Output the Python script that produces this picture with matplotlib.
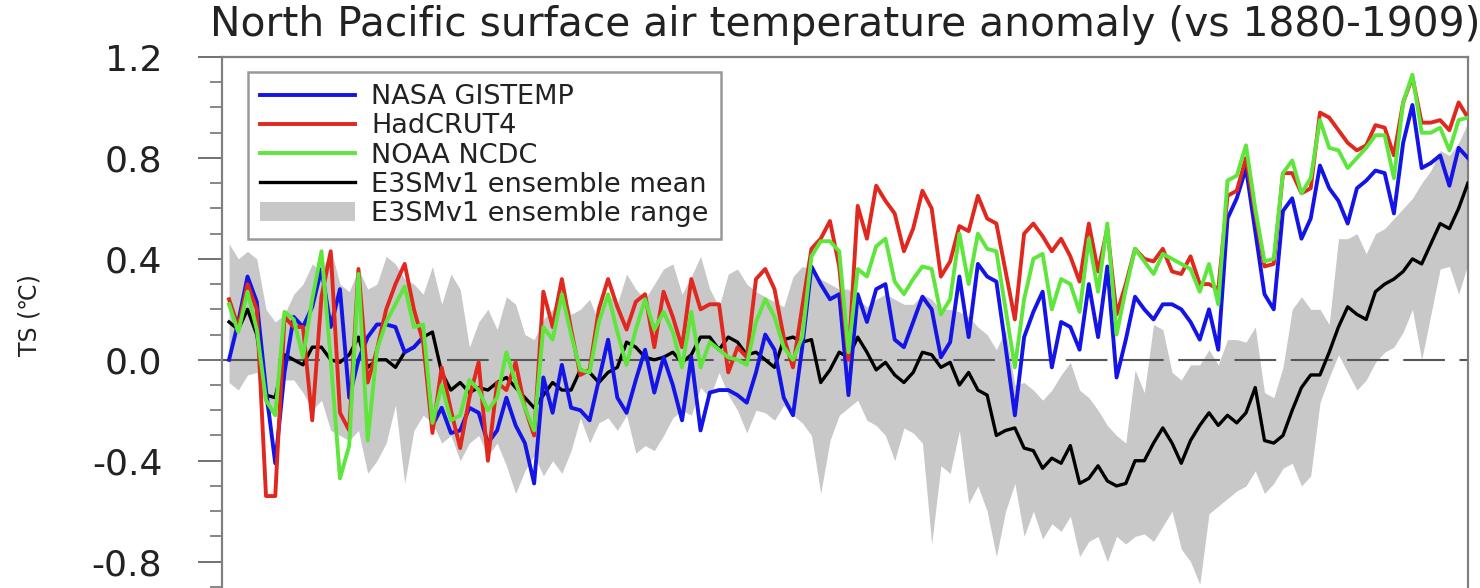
import numpy as np
import matplotlib
matplotlib.use("Agg")
import matplotlib.pyplot as plt
from matplotlib.ticker import MultipleLocator

years = np.arange(1880, 2015)

gistemp = [0.00, 0.15, 0.33, 0.23, -0.12, -0.41, -0.05, 0.17, 0.13, 0.21,
           0.36, 0.13, 0.28, -0.15, 0.00, 0.09, 0.14, 0.14, 0.13, 0.03,
           0.05, 0.09, -0.26, -0.19, -0.29, -0.28, -0.19, -0.21, -0.33, -0.28,
           -0.15, -0.26, -0.33, -0.49, -0.07, -0.21, -0.02, -0.19, -0.20, -0.24,
           -0.08, 0.08, -0.15, -0.21, -0.08, 0.04, -0.13, 0.01, -0.10, -0.24,
           0.01, -0.28, -0.13, -0.12, -0.12, -0.14, -0.17, -0.05, 0.10, 0.04,
           -0.15, -0.22, 0.05, 0.37, 0.30, 0.24, 0.26, -0.14, 0.26, 0.15,
           0.28, 0.30, 0.08, 0.05, 0.15, 0.25, 0.20, 0.01, 0.07, 0.33,
           0.09, 0.38, 0.33, 0.31, 0.05, -0.22, 0.09, 0.19, 0.27, -0.03,
           0.15, 0.13, 0.04, 0.30, 0.09, 0.37, -0.07, 0.08, 0.25, 0.20,
           0.16, 0.22, 0.22, 0.20, 0.15, 0.08, 0.20, 0.04, 0.56, 0.64,
           0.76, 0.51, 0.26, 0.20, 0.59, 0.64, 0.48, 0.56, 0.77, 0.68,
           0.63, 0.54, 0.68, 0.71, 0.75, 0.74, 0.58, 0.86, 1.01, 0.76,
           0.78, 0.81, 0.69, 0.84, 0.80]

hadcrut = [0.24, 0.13, 0.30, 0.20, -0.54, -0.54, 0.17, 0.13, 0.13, -0.24,
           0.25, 0.43, -0.21, -0.28, 0.36, -0.09, 0.04, 0.20, 0.30, 0.38,
           0.20, 0.07, -0.29, -0.03, -0.20, -0.35, -0.15, -0.01, -0.40, -0.09,
           -0.12, -0.01, -0.19, -0.30, 0.27, 0.13, 0.32, 0.12, -0.06, -0.04,
           0.20, 0.32, 0.21, 0.12, 0.23, 0.26, 0.05, 0.27, 0.17, 0.05,
           0.32, 0.20, 0.22, 0.22, -0.05, 0.05, 0.01, 0.32, 0.36, 0.28,
           0.09, -0.03, 0.21, 0.44, 0.48, 0.55, 0.37, 0.00, 0.61, 0.48,
           0.69, 0.63, 0.58, 0.43, 0.52, 0.67, 0.60, 0.33, 0.39, 0.53,
           0.51, 0.65, 0.56, 0.54, 0.35, 0.16, 0.50, 0.54, 0.49, 0.43,
           0.48, 0.41, 0.31, 0.54, 0.35, 0.52, 0.18, 0.30, 0.44, 0.40,
           0.39, 0.44, 0.35, 0.34, 0.41, 0.30, 0.30, 0.28, 0.65, 0.67,
           0.80, 0.58, 0.37, 0.38, 0.74, 0.74, 0.66, 0.68, 0.98, 0.96,
           0.91, 0.86, 0.83, 0.85, 0.93, 0.92, 0.81, 1.02, 1.12, 0.94,
           0.94, 0.95, 0.91, 1.02, 0.96]

ncdc = [0.22, 0.11, 0.27, 0.12, -0.16, -0.22, 0.19, 0.16, 0.01, 0.24,
        0.43, 0.00, -0.47, -0.34, 0.34, -0.32, 0.04, 0.15, 0.22, 0.29,
        0.13, 0.14, -0.25, -0.10, -0.24, -0.22, -0.08, -0.12, -0.20, -0.15,
        0.03, -0.09, -0.19, -0.28, 0.13, 0.08, 0.26, 0.10, -0.04, -0.05,
        0.15, 0.26, 0.11, -0.02, 0.12, 0.24, 0.12, 0.19, 0.11, -0.03,
        0.19, -0.03, 0.07, 0.04, 0.01, 0.00, -0.02, 0.15, 0.24, 0.17,
        0.05, 0.00, 0.09, 0.41, 0.47, 0.47, 0.43, 0.03, 0.36, 0.33,
        0.45, 0.48, 0.31, 0.26, 0.32, 0.37, 0.36, 0.18, 0.24, 0.50,
        0.30, 0.50, 0.44, 0.43, 0.20, -0.03, 0.24, 0.40, 0.42, 0.20,
        0.32, 0.30, 0.19, 0.48, 0.27, 0.54, 0.10, 0.28, 0.44, 0.39,
        0.34, 0.42, 0.40, 0.38, 0.36, 0.27, 0.38, 0.22, 0.71, 0.73,
        0.85, 0.60, 0.39, 0.40, 0.74, 0.79, 0.66, 0.72, 0.95, 0.84,
        0.83, 0.76, 0.80, 0.84, 0.89, 0.89, 0.72, 1.02, 1.13, 0.90,
        0.90, 0.92, 0.83, 0.95, 0.96]

ens_mean = [0.15, 0.12, 0.20, 0.10, -0.14, -0.15, 0.02, 0.00, -0.02, 0.05,
            0.05, 0.00, -0.01, 0.02, 0.09, -0.03, 0.00, 0.00, -0.03, 0.03,
            0.05, 0.09, 0.11, -0.05, -0.12, -0.09, -0.13, -0.11, -0.12, -0.09,
            -0.07, -0.11, -0.15, -0.19, -0.14, -0.09, -0.12, -0.12, -0.04, -0.05,
            -0.09, -0.05, -0.03, 0.07, 0.05, 0.01, 0.00, 0.01, 0.03, -0.01,
            0.02, 0.09, 0.09, 0.04, 0.09, 0.07, 0.02, 0.03, 0.00, -0.03,
            0.08, 0.09, 0.07, 0.08, -0.09, -0.04, 0.03, 0.01, 0.09, 0.03,
            -0.04, -0.01, -0.06, -0.09, -0.05, 0.03, 0.02, -0.03, -0.01, -0.10,
            -0.05, -0.12, -0.14, -0.30, -0.28, -0.27, -0.35, -0.36, -0.43, -0.39,
            -0.41, -0.34, -0.49, -0.47, -0.42, -0.48, -0.50, -0.49, -0.40, -0.40,
            -0.33, -0.27, -0.33, -0.41, -0.32, -0.26, -0.21, -0.26, -0.22, -0.25,
            -0.21, -0.11, -0.32, -0.33, -0.30, -0.20, -0.11, -0.06, -0.06, 0.03,
            0.13, 0.21, 0.18, 0.16, 0.27, 0.30, 0.32, 0.35, 0.40, 0.38,
            0.46, 0.54, 0.52, 0.60, 0.70]

ens_max = [0.46, 0.40, 0.43, 0.40, 0.20, 0.15, 0.18, 0.26, 0.30, 0.38,
           0.35, 0.44, 0.30, 0.27, 0.36, 0.28, 0.30, 0.41, 0.38, 0.32,
           0.30, 0.26, 0.37, 0.22, 0.34, 0.28, 0.05, 0.15, 0.20, 0.12,
           0.25, 0.22, 0.10, 0.08, 0.16, 0.20, 0.28, 0.18, 0.20, 0.24,
           0.15, 0.26, 0.22, 0.34, 0.28, 0.24, 0.30, 0.36, 0.38, 0.26,
           0.33, 0.41, 0.28, 0.21, 0.34, 0.36, 0.30, 0.27, 0.25, 0.23,
           0.21, 0.33, 0.37, 0.36, 0.32, 0.30, 0.28, 0.28, 0.24, 0.21,
           0.24, 0.26, 0.24, 0.22, 0.22, 0.26, 0.24, 0.20, 0.20, 0.19,
           0.17, 0.13, 0.10, 0.04, 0.12, -0.10, -0.09, -0.12, -0.16, -0.12,
           -0.06, -0.01, -0.12, -0.15, -0.20, -0.26, -0.30, -0.33, -0.04, -0.13,
           0.14, 0.12, -0.05, -0.08, -0.02, -0.02, 0.04, -0.02, 0.08, 0.08,
           0.07, 0.13, -0.13, -0.15, -0.03, 0.20, 0.25, 0.20, 0.20, 0.14,
           0.48, 0.48, 0.50, 0.42, 0.50, 0.52, 0.56, 0.60, 0.64, 0.70,
           0.75, 0.83, 0.81, 0.86, 0.94]

ens_min = [-0.09, -0.12, -0.06, -0.05, -0.20, -0.22, -0.08, -0.08, -0.13, -0.20,
           -0.16, -0.28, -0.30, -0.32, -0.28, -0.45, -0.40, -0.33, -0.18, -0.49,
           -0.28, -0.22, -0.25, -0.33, -0.30, -0.40, -0.33, -0.30, -0.38, -0.33,
           -0.42, -0.53, -0.44, -0.38, -0.46, -0.40, -0.45, -0.36, -0.23, -0.33,
           -0.25, -0.23, -0.28, -0.22, -0.37, -0.34, -0.36, -0.30, -0.23, -0.20,
           -0.22, -0.11, -0.15, -0.05, -0.14, -0.20, -0.29, -0.20, -0.21, -0.24,
           -0.18, -0.22, -0.25, -0.30, -0.53, -0.32, -0.22, -0.19, -0.16, -0.24,
           -0.26, -0.30, -0.40, -0.27, -0.29, -0.33, -0.73, -0.42, -0.45, -0.28,
           -0.57, -0.50, -0.60, -0.78, -0.60, -0.49, -0.70, -0.60, -0.71, -0.65,
           -0.68, -0.62, -0.78, -0.72, -0.70, -0.80, -0.70, -0.73, -0.70, -0.69,
           -0.72, -0.66, -0.60, -0.75, -0.80, -0.89, -0.61, -0.58, -0.55, -0.52,
           -0.50, -0.44, -0.53, -0.49, -0.43, -0.41, -0.50, -0.46, -0.17, -0.07,
           0.02, -0.05, -0.12, -0.08, -0.01, 0.03, 0.05, 0.11, 0.20, 0.00,
           0.18, 0.36, 0.37, 0.26, 0.38]

ytick_vals = [-0.8, -0.4, 0.0, 0.4, 0.8, 1.2]
ytick_labels = ["-0.8", "-0.4", "0.0", "0.4", "0.8", "1.2"]

plt.rcParams['font.family'] = ['DejaVu Sans']
txt = '#222222'

fig = plt.figure(figsize=(14.8, 5.88), dpi=100)
ax = fig.add_axes([0.15, -0.041, 0.842, 0.944])

band = ax.fill_between(years, ens_min, ens_max, color='#c8c8c8', lw=0,
                       label='E3SMv1 ensemble range', zorder=1)
ax.axhline(0, color='#555555', lw=1.5, dashes=(20, 7), zorder=2)
l4, = ax.plot(years, ens_mean, color='black', lw=2.4, zorder=3,
              label='E3SMv1 ensemble mean')
l1, = ax.plot(years, gistemp, color='#1414e6', lw=2.8, zorder=4,
              label='NASA GISTEMP')
l2, = ax.plot(years, hadcrut, color='#e0281e', lw=2.8, zorder=5,
              label='HadCRUT4')
l3, = ax.plot(years, ncdc, color='#5ee63c', lw=2.8, zorder=6,
              label='NOAA NCDC')

ax.set_xlim(1879.24, 2014.03)
ax.set_ylim(-1.0, 1.2)
ax.set_yticks(ytick_vals)
ax.set_yticklabels(ytick_labels)
ax.yaxis.set_minor_locator(MultipleLocator(0.1))
ax.tick_params(axis='y', which='major', direction='out', length=17, width=1.3,
               color='#666666', labelsize=26, labelcolor=txt, pad=26)
ax.tick_params(axis='y', which='minor', direction='out', length=9, width=1.1,
               color='#666666')
ax.tick_params(axis='x', bottom=False, labelbottom=False)
for s in ax.spines.values():
    s.set_color('#808080')
    s.set_linewidth(1.6)

ax.set_ylabel('TS (℃)', fontsize=17, color=txt)
ax.yaxis.set_label_coords(-0.145, 0.535)

fig.text(0.571, 0.958, 'North Pacific surface air temperature anomaly (vs 1880-1909)',
         ha='center', va='center', fontsize=29.3, color=txt)

leg = ax.legend(handles=[l1, l2, l3, l4, band], loc='upper left',
                bbox_to_anchor=(0.0209, 0.973), fontsize=19.5, frameon=True,
                fancybox=False, handlelength=3.5, handletextpad=0.6,
                labelspacing=0.12, borderpad=0.45, borderaxespad=0)
leg.get_frame().set_edgecolor('#808080')
leg.get_frame().set_linewidth(1.8)
for t in leg.get_texts():
    t.set_color(txt)

fig.savefig('out.png', dpi=100)
